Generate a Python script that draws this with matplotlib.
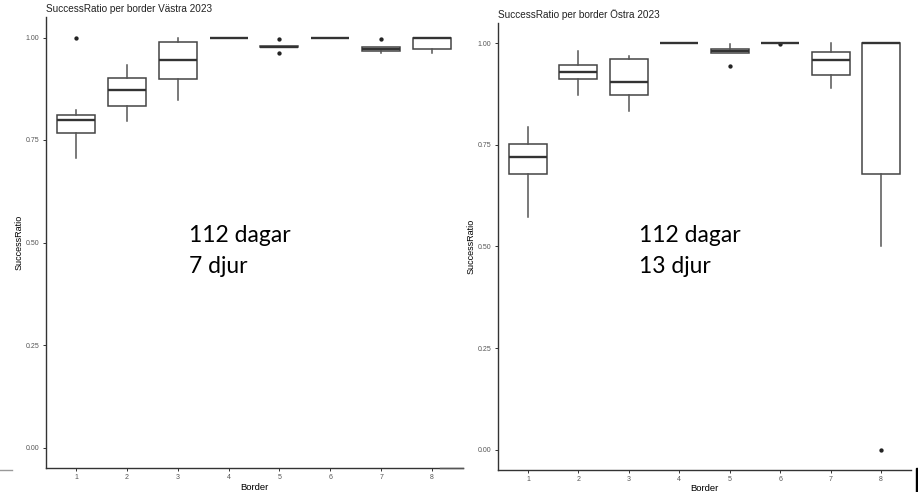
import matplotlib
matplotlib.use("Agg")
import matplotlib.pyplot as plt
from matplotlib.lines import Line2D
from matplotlib.patches import Rectangle

# Box statistics (ggplot-style boxplots)
borders = [1, 2, 3, 4, 5, 6, 7, 8]

vastra_lo = [0.707, 0.796, 0.847, 1.0, 0.976, 1.0, 0.961, 0.962]
vastra_q1 = [0.768, 0.833, 0.898, 1.0, 0.976, 1.0, 0.966, 0.972]
vastra_med = [0.800, 0.872, 0.946, 1.0, 0.978, 1.0, 0.972, 1.0]
vastra_q3 = [0.812, 0.902, 0.988, 1.0, 0.980, 1.0, 0.976, 1.0]
vastra_hi = [0.822, 0.934, 0.999, 1.0, 0.980, 1.0, 0.976, 1.0]
vastra_fliers = [[1.0], [], [], [], [0.996, 0.962], [], [0.996], []]

ostra_lo = [0.572, 0.872, 0.834, 1.0, 0.975, 1.0, 0.890, 0.500]
ostra_q1 = [0.679, 0.911, 0.873, 1.0, 0.975, 1.0, 0.921, 0.679]
ostra_med = [0.720, 0.929, 0.905, 1.0, 0.980, 1.0, 0.958, 1.0]
ostra_q3 = [0.751, 0.945, 0.960, 1.0, 0.986, 1.0, 0.979, 1.0]
ostra_hi = [0.793, 0.981, 0.969, 1.0, 0.997, 1.0, 1.0, 1.0]
ostra_fliers = [[], [], [], [], [0.944], [0.997], [], [0.0]]

yticks = [0.0, 0.25, 0.5, 0.75, 1.0]
ytick_labels = ["0.00", "0.25", "0.50", "0.75", "1.00"]

titles = ["SuccessRatio per border Västra 2023", "SuccessRatio per border Östra 2023"]
notes = [("112 dagar", "7 djur"), ("112 dagar", "13 djur")]

W, H = 918, 492
fig = plt.figure(figsize=(W / 100, H / 100), dpi=100)


def px_axes(x0, x1, ytop, ybot):
    return fig.add_axes([x0 / W, 1 - ybot / H, (x1 - x0) / W, (ybot - ytop) / H])


def draw_panel(ax, lo, q1, med, q3, hi, fliers, title, xpad):
    stats = []
    for i in range(len(borders)):
        stats.append(dict(whislo=lo[i], q1=q1[i], med=med[i], q3=q3[i],
                          whishi=hi[i], fliers=fliers[i]))
    ax.bxp(stats, positions=borders, widths=0.75, showcaps=False,
           patch_artist=True,
           boxprops=dict(facecolor="white", edgecolor="#444444", linewidth=1.1),
           whiskerprops=dict(color="#555555", linewidth=1.1),
           medianprops=dict(color="#333333", linewidth=1.7),
           flierprops=dict(marker="o", markersize=2.1, markerfacecolor="#222222",
                           markeredgecolor="#222222", linestyle="none"))
    ax.set_xlim(0.4, 8.6)
    ax.set_ylim(-0.05, 1.05)
    ax.set_xticks(borders)
    ax.set_xticklabels([str(b) for b in borders])
    ax.set_yticks(yticks)
    ax.set_yticklabels(ytick_labels)
    for s in ["top", "right"]:
        ax.spines[s].set_visible(False)
    for s in ["left", "bottom"]:
        ax.spines[s].set_color("#333333")
        ax.spines[s].set_linewidth(1.0)
    ax.tick_params(length=2.5, width=0.7, color="#333333", labelcolor="#555555",
                   labelsize=5, pad=2)
    ax.set_xlabel("Border", fontsize=6.8, family="Liberation Sans", labelpad=xpad)
    ax.set_ylabel("SuccessRatio", fontsize=6.5, family="Liberation Sans", labelpad=1.2)
    for lab in ax.get_xticklabels() + ax.get_yticklabels():
        lab.set_family("Liberation Sans")
    ax.set_title(title, loc="left", fontsize=7.2, family="Liberation Sans",
                 color="#222222", pad=3.5)


ax1 = px_axes(45.5, 462.5, 17, 468)
draw_panel(ax1, vastra_lo, vastra_q1, vastra_med, vastra_q3, vastra_hi,
           vastra_fliers, titles[0], 1.5)

ax2 = px_axes(497.7, 911.3, 22.7, 470)
draw_panel(ax2, ostra_lo, ostra_q1, ostra_med, ostra_q3, ostra_hi,
           ostra_fliers, titles[1], 0.5)

# big annotations
for (xpx, lines) in [(189, notes[0]), (639, notes[1])]:
    fig.text(xpx / W, 1 - 241.7 / H, lines[0], fontsize=16.5, family="Lato",
             va="baseline", ha="left", color="black")
    fig.text(xpx / W, 1 - 273 / H, lines[1], fontsize=16.5, family="Lato",
             va="baseline", ha="left", color="black")

# screenshot edge leftovers
fig.add_artist(Line2D([0, 12 / W], [1 - 470 / H] * 2, color="#999999", lw=1.0))
fig.add_artist(Line2D([440 / W, 463 / W], [1 - 468 / H] * 2, color="#555555", lw=1.0))
fig.add_artist(Rectangle((916 / W, 0), 2 / W, 24 / H, color="black"))

fig.savefig("out.png", dpi=100)
